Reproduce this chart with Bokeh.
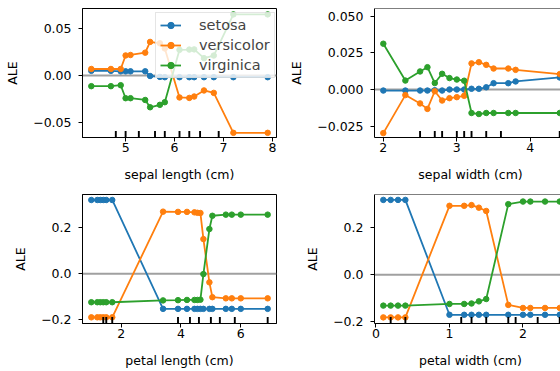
from bokeh.plotting import figure
from bokeh.models import Range1d, Span, FixedTicker
from bokeh.layouts import gridplot
from bokeh.embed import file_html
from bokeh.resources import INLINE

classes = ["setosa", "versicolor", "virginica"]
colors = ["#1f77b4", "#ff7f0e", "#2ca02c"]

# sepal length (cm)
sl_x = [4.3, 4.7, 4.9, 5.0, 5.1, 5.4, 5.5, 5.7, 5.8, 6.1, 6.3, 6.4, 6.6, 6.8, 7.2, 7.9]
sl_setosa = [0.005, 0.005, 0.0045, 0.0045, 0.0045, 0.0045, -0.0005, -0.0015, -0.0018, -0.0018,
             -0.0018, -0.0018, -0.0018, -0.0018, -0.0018, -0.0018]
sl_versicolor = [0.007, 0.007, 0.007, 0.0215, 0.022, 0.0245, 0.036, 0.0345, 0.029, -0.0235,
                 -0.024, -0.0225, -0.016, -0.0186, -0.0614, -0.0614]
sl_virginica = [-0.0114, -0.0114, -0.0104, -0.0243, -0.0243, -0.0262, -0.034, -0.0314, -0.0286,
                0.0275, 0.0278, 0.028, 0.0186, 0.0214, 0.0655, 0.0655]
sl_rug = [4.8, 5.0, 5.27, 5.6, 5.8, 6.1, 6.3, 6.52, 6.9]

# sepal width (cm)
sw_x = [2.0, 2.3, 2.5, 2.6, 2.7, 2.8, 2.9, 3.0, 3.1, 3.2, 3.3, 3.4, 3.5, 3.7, 3.8, 4.4]
sw_setosa = [-0.0007, -0.0007, -0.0007, -0.0007, -0.0005, -0.0007, 0.0, 0.0, 0.0, 0.0005,
             0.0005, 0.0015, 0.0043, 0.0043, 0.0055, 0.0082]
sw_versicolor = [-0.0297, -0.0038, -0.0095, -0.0132, -0.0012, -0.0075, -0.0059, -0.0052, -0.0043,
                 0.0178, 0.0186, 0.0168, 0.0143, 0.0143, 0.0134, 0.0105]
sw_virginica = [0.0312, 0.0061, 0.0123, 0.0152, 0.0044, 0.0107, 0.0078, 0.0068, 0.0060,
                -0.0160, -0.0167, -0.0160, -0.0160, -0.0160, -0.0160, -0.0160]
sw_rug = [2.5, 2.7, 2.8, 3.0, 3.1, 3.2, 3.4, 3.6, 4.4]

# petal length (cm)
pl_x = [1.0, 1.2, 1.3, 1.4, 1.5, 1.7, 3.4, 3.9, 4.2, 4.45, 4.55, 4.65, 4.75, 4.95, 5.05,
        5.5, 5.7, 6.0, 6.9]
pl_setosa = [0.322, 0.322, 0.322, 0.322, 0.322, 0.322, -0.154, -0.154, -0.154, -0.154, -0.154,
             -0.154, -0.154, -0.154, -0.154, -0.154, -0.154, -0.154, -0.154]
pl_versicolor = [-0.191, -0.191, -0.191, -0.191, -0.191, -0.191, 0.271, 0.270, 0.270, 0.268,
                 0.266, 0.265, 0.151, -0.038, -0.103, -0.108, -0.108, -0.108, -0.108]
pl_virginica = [-0.125, -0.125, -0.125, -0.125, -0.125, -0.125, -0.117, -0.116, -0.115, -0.115,
                -0.115, -0.114, -0.002, 0.195, 0.253, 0.258, 0.258, 0.258, 0.258]
pl_rug = [1.4, 1.5, 1.7, 3.9, 4.3, 4.6, 5.0, 5.3, 5.8, 6.9]

# petal width (cm)
pw_x = [0.1, 0.2, 0.3, 0.4, 1.0, 1.2, 1.3, 1.4, 1.5, 1.8, 2.0, 2.1, 2.3, 2.5]
pw_setosa = [0.318, 0.318, 0.318, 0.318, -0.170, -0.170, -0.170, -0.170, -0.170, -0.170,
             -0.170, -0.170, -0.170, -0.170]
pw_versicolor = [-0.181, -0.181, -0.181, -0.181, 0.293, 0.293, 0.296, 0.285, 0.271, -0.128,
                 -0.141, -0.141, -0.141, -0.141]
pw_virginica = [-0.131, -0.131, -0.131, -0.131, -0.124, -0.124, -0.122, -0.113, -0.103, 0.300,
                0.311, 0.311, 0.311, 0.311]
pw_rug = [0.2, 0.4, 1.16, 1.3, 1.5, 1.8, 1.9, 2.2, 2.5]

FONT = "DejaVu Sans"
FS = "12.5px"
LEGEND_FS = "14.5px"


def make(x, series, rug, xr, yr, xticks, yticks, ylabels, xlabel, left_col, top_row, legend=False):
    p = figure(
        frame_width=194 if left_col else 192,
        frame_height=129,
        x_range=Range1d(*xr),
        y_range=Range1d(*yr),
        output_backend="svg",
        toolbar_location=None,
        min_border_left=82,
        min_border_right=10 if left_col else 0,
        min_border_top=8,
        min_border_bottom=49 if top_row else 48,
    )
    p.grid.visible = False
    p.add_layout(Span(location=0, dimension="width", line_color="#a0a0a0",
                      line_width=2, level="underlay"))
    for name, ys, c in zip(classes, series, colors):
        if legend:
            p.line(x, ys, line_color=c, line_width=1.8, legend_label=name)
            p.scatter(x, ys, size=5.5, fill_color=c, line_color=c, legend_label=name)
        else:
            p.line(x, ys, line_color=c, line_width=1.8)
            p.scatter(x, ys, size=5.5, fill_color=c, line_color=c)
    p.extra_y_ranges = {"rug": Range1d(0, 1)}
    p.segment(x0=rug, y0=0, x1=rug, y1=0.05, y_range_name="rug",
              line_color="black", line_width=1.9)

    p.xaxis.ticker = FixedTicker(ticks=xticks)
    p.yaxis.ticker = FixedTicker(ticks=yticks)
    p.yaxis.major_label_overrides = {t: l for t, l in zip(yticks, ylabels)}
    p.xaxis.axis_label = xlabel
    p.yaxis.axis_label = "ALE"
    for ax in (p.xaxis[0], p.yaxis[0]):
        ax.major_label_text_font = FONT
        ax.major_label_text_font_size = FS
        ax.major_label_text_color = "black"
        ax.axis_label_text_font = FONT
        ax.axis_label_text_font_size = FS
        ax.axis_label_text_font_style = "normal"
        ax.axis_label_text_color = "black"
        ax.major_tick_in = 0
        ax.major_tick_out = 4
        ax.minor_tick_line_color = None
        ax.major_tick_line_color = "black"
        ax.axis_line_color = "black"
    p.xaxis.major_label_standoff = 1
    p.yaxis.major_label_standoff = 7
    p.xaxis.axis_label_standoff = 12
    p.yaxis.axis_label_standoff = 10
    if left_col:
        p.outline_line_color = "black"
    else:
        p.outline_line_color = None
        p.add_layout(Span(location=yr[1], dimension="width", line_color="black", line_width=1))
    if legend:
        lg = p.legend[0]
        lg.location = (73, 59)
        lg.label_text_font = FONT
        lg.label_text_font_size = LEGEND_FS
        lg.glyph_width = 21
        lg.glyph_height = 16
        lg.label_height = 16
        lg.spacing = 4
        lg.padding = 4
        lg.label_standoff = 18
        lg.border_line_color = "#cccccc"
        lg.background_fill_alpha = 0.8
    return p


p1 = make(sl_x, [sl_setosa, sl_versicolor, sl_virginica], sl_rug, (4.12, 8.08), (-0.0664, 0.0718),
          [5, 6, 7, 8], [-0.05, 0.0, 0.05], ["\u22120.05", "0.00", "0.05"],
          "sepal length (cm)", True, True, legend=True)
p2 = make(sw_x, [sw_setosa, sw_versicolor, sw_virginica], sw_rug, (1.88, 4.492), (-0.0327, 0.0552),
          [2, 3, 4], [-0.025, 0.0, 0.025, 0.05], ["\u22120.025", "0.000", "0.025", "0.050"],
          "sepal width (cm)", False, True)
p3 = make(pl_x, [pl_setosa, pl_versicolor, pl_virginica], pl_rug, (0.705, 7.195), (-0.218, 0.346),
          [2, 4, 6], [-0.2, 0.0, 0.2], ["\u22120.2", "0.0", "0.2"],
          "petal length (cm)", True, False)
p4 = make(pw_x, [pw_setosa, pw_versicolor, pw_virginica], pw_rug, (-0.02, 2.592), (-0.207, 0.341),
          [0, 1, 2], [-0.2, 0.0, 0.2], ["\u22120.2", "0.0", "0.2"],
          "petal width (cm)", False, False)

grid = gridplot([[p1, p2], [p3, p4]], toolbar_location=None)
open("out.html", "w").write(file_html(grid, INLINE))
